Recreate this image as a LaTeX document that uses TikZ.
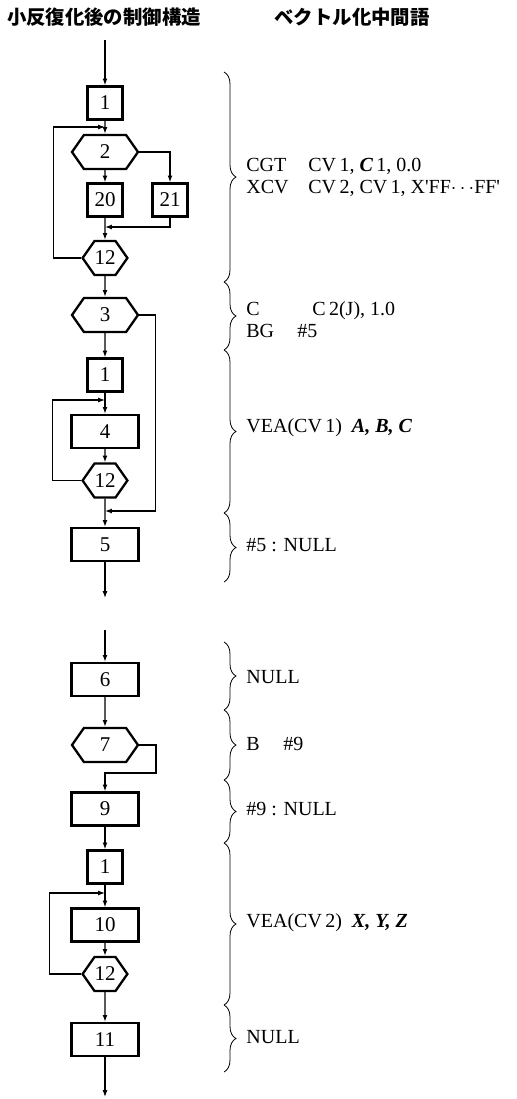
\documentclass[tikz,border=0pt]{standalone}
\usepackage{fontspec}
\setmainfont{Liberation Serif}
\newfontfamily\jfont{Noto Sans CJK JP}
\usetikzlibrary{arrows.meta,positioning,shapes.symbols,decorations.pathreplacing}
\tikzset{
  >={Latex[length=3.4pt,width=2.4pt]},
  blk/.style={draw,line width=1.15pt,minimum height=16.5pt,minimum width=17.5pt,
    inner sep=0pt,font=\fontsize{10.5}{12}\selectfont},
  wide/.style={blk,minimum width=33.5pt},
  hexa/.style={draw,line width=1.15pt,signal,signal to=east and west,
    signal pointer angle=110,minimum height=17pt,minimum width=#1,inner sep=0pt,
    font=\fontsize{10.5}{12}\selectfont},
  hexa/.default=33pt,
  flow/.style={->,line width=0.55pt},
  grp/.style={decorate,decoration={brace,amplitude=6pt},line width=0.4pt},
  instr/.style={anchor=west,align=left,inner sep=0pt,font=\fontsize{10}{11}\selectfont},
  hdr/.style={inner sep=0pt,font=\jfont\bfseries\fontsize{9.7}{11}\selectfont},
}

\begin{document}
\begin{tikzpicture}[x=0.5pt,y=-0.5pt]
  \useasboundingbox (0,0) rectangle (516,1099);
  \node[hdr] (hl) at (104,17) {小反復化後の制御構造};
  \node[hdr] (hr) at (352,17) {ベクトル化中間語};

  % upper part
  \coordinate (in1) at (105,40);
  \node[blk] (b1a) at (105,103) {1};
  \coordinate (j1) at (105,127);
  \node[hexa] (h2) at (105,152) {2};
  \node[blk] (b20) at (105,200) {20};
  \node[blk] (b21) at (170,200) {21};
  \coordinate (m1) at (105,227);
  \node[hexa=21.5pt] (h12a) at (105,258) {12};
  \node[hexa] (h3) at (105,315) {3};
  \node[blk] (b1b) at (105,375) {1};
  \coordinate (j2) at (105,400);
  \node[wide] (b4) at (105,431.5) {4};
  \node[hexa=21.5pt] (h12b) at (105,480.5) {12};
  \coordinate (m2) at (105,511);
  \node[wide] (b5) at (105,544.5) {5};
  \coordinate (out1) at (105,598);

  \draw[flow] (in1) -- (b1a);
  \draw[flow] (b1a) -- (h2);
  \draw[flow] (h2) -- (b20);
  \draw[flow] (h2.east) -| (b21);
  \draw[flow] (b20) -- (h12a);
  \draw[flow] (b21) |- (m1);
  \draw[flow] (h12a.west) -- ++(-28,0) |- (j1);
  \draw[flow] (h12a) -- (h3);
  \draw[flow] (h3) -- (b1b);
  \draw[flow] (h3.east) -- ++(16,0) |- (m2);
  \draw[flow] (b1b) -- (b4);
  \draw[flow] (b4) -- (h12b);
  \draw[flow] (h12b.west) -- ++(-29,0) |- (j2);
  \draw[flow] (h12b) -- (b5);
  \draw[flow] (b5) -- (out1);

  % lower part
  \coordinate (in2) at (105,630);
  \node[wide] (b6) at (105,679.5) {6};
  \node[hexa] (h7) at (105,745) {7};
  \coordinate (k7) at (156,773);
  \coordinate (k9) at (105,773);
  \node[wide] (b9) at (105,809) {9};
  \node[blk] (b1c) at (105,867) {1};
  \coordinate (j3) at (105,893);
  \node[wide] (b10) at (105,925) {10};
  \node[hexa=21.5pt] (h12c) at (105,974) {12};
  \node[wide] (b11) at (105,1039.5) {11};
  \coordinate (out2) at (105,1097);

  \draw[flow] (in2) -- (b6);
  \draw[flow] (b6) -- (h7);
  \draw[flow] (h7.east) -| (k7) -- (k9) -- (b9);
  \draw[flow] (b9) -- (b1c);
  \draw[flow] (b1c) -- (b10);
  \draw[flow] (b10) -- (h12c);
  \draw[flow] (h12c.west) -- ++(-32,0) |- (j3);
  \draw[flow] (h12c) -- (b11);
  \draw[flow] (b11) -- (out2);

  % braces
  \foreach \a/\b in {72/282,282/350,350/513,513/582,642/710,710/780,780/843,843/1005,1005/1072}
    \draw[grp] (224,\a) -- (224,\b);

  % vector code
  \node[instr] (t1) at (246,177) {\makebox[31pt][l]{CGT}CV\,1, \textbf{\textit{C}}\,1, 0.0\\
    \makebox[31pt][l]{XCV}CV\,2, CV\,1, X\textquotesingle FF$\cdots$FF\textquotesingle};
  \node[instr] (t2) at (246,320) {\makebox[33pt][l]{C}C\,2(J), 1.0\\
    \makebox[25.5pt][l]{BG}\#5};
  \node[instr] (t3) at (246,428) {VEA(CV\,1)\enspace \textbf{\textit{A, B, C}}};
  \node[instr] (t4) at (246,545) {\#5 : NULL};
  \node[instr] (t5) at (246,677) {NULL};
  \node[instr] (t6) at (246,744) {\makebox[18.5pt][l]{B}\#9};
  \node[instr] (t7) at (246,809) {\#9 : NULL};
  \node[instr] (t8) at (246,923) {VEA(CV\,2)\enspace \textbf{\textit{X, Y, Z}}};
  \node[instr] (t9) at (246,1037) {NULL};
\end{tikzpicture}
\end{document}
